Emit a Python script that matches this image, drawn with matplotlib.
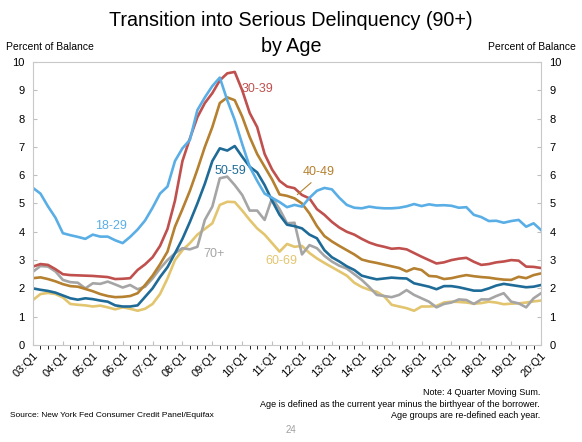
import numpy as np
import matplotlib.pyplot as plt

plt.rcParams['font.family'] = ['Liberation Sans', 'DejaVu Sans']

# quarterly, 2003Q1 .. 2020Q1
quarters = np.arange(69)
tick_labels = [f"{y:02d}:Q1" for y in range(3, 21)]

age_18_29 = [5.55, 5.35, 4.9, 4.5, 3.95, 3.88, 3.82, 3.75, 3.9, 3.83, 3.83, 3.7, 3.6, 3.82,
             4.08, 4.4, 4.85, 5.35, 5.6, 6.5, 6.95, 7.25, 8.3, 8.75, 9.15, 9.45, 8.65, 7.95,
             7.1, 6.3, 5.8, 5.35, 5.2, 5.05, 4.87, 4.95, 4.89, 5.2, 5.45, 5.55, 5.5, 5.2,
             4.95, 4.85, 4.83, 4.89, 4.85, 4.83, 4.83, 4.85, 4.9, 4.98, 4.91, 4.97, 4.93,
             4.94, 4.92, 4.85, 4.87, 4.6, 4.52, 4.38, 4.39, 4.32, 4.38, 4.42, 4.18, 4.3, 4.06]
age_30_39 = [2.77, 2.86, 2.83, 2.68, 2.5, 2.47, 2.46, 2.45, 2.44, 2.42, 2.4, 2.33, 2.34, 2.36,
             2.65, 2.85, 3.1, 3.5, 4.1, 5.1, 6.5, 7.3, 8.05, 8.55, 8.9, 9.35, 9.6, 9.65,
             9.0, 8.2, 7.7, 6.75, 6.2, 5.8, 5.6, 5.54, 5.3, 5.18, 4.8, 4.6, 4.35, 4.15,
             4.0, 3.9, 3.75, 3.62, 3.53, 3.47, 3.4, 3.42, 3.38, 3.25, 3.12, 3.0, 2.88,
             2.92, 3.0, 3.05, 3.08, 2.94, 2.83, 2.86, 2.92, 2.95, 3.0, 2.98, 2.77, 2.76, 2.72]
age_40_49 = [2.36, 2.39, 2.33, 2.25, 2.15, 2.08, 2.06, 1.98, 1.9, 1.8, 1.73, 1.69, 1.7, 1.73,
             1.83, 2.12, 2.45, 2.85, 3.3, 4.18, 4.8, 5.45, 6.2, 7.0, 7.7, 8.55, 8.75, 8.65,
             8.07, 7.35, 6.75, 6.3, 5.85, 5.32, 5.27, 5.18, 5.0, 4.65, 4.2, 3.85, 3.66, 3.5,
             3.35, 3.2, 3.02, 2.95, 2.9, 2.84, 2.78, 2.72, 2.6, 2.71, 2.65, 2.44, 2.42,
             2.33, 2.36, 2.42, 2.47, 2.43, 2.4, 2.38, 2.34, 2.31, 2.3, 2.41, 2.36, 2.47, 2.53]
age_50_59 = [2.0, 1.95, 1.91, 1.85, 1.75, 1.65, 1.6, 1.65, 1.62, 1.57, 1.53, 1.4, 1.36, 1.36,
             1.4, 1.7, 2.0, 2.4, 2.75, 3.24, 3.75, 4.35, 5.0, 5.7, 6.5, 6.95, 6.87, 7.03,
             6.65, 6.3, 6.1, 5.65, 5.1, 4.6, 4.25, 4.2, 4.12, 3.9, 3.77, 3.35, 3.1, 2.95,
             2.78, 2.65, 2.45, 2.38, 2.32, 2.35, 2.38, 2.36, 2.35, 2.18, 2.12, 2.06, 1.97,
             2.08, 2.08, 2.04, 1.98, 1.92, 1.92, 2.0, 2.1, 2.16, 2.12, 2.08, 2.04, 2.06, 2.12]
age_60_69 = [1.59, 1.8, 1.84, 1.8, 1.68, 1.45, 1.42, 1.4, 1.36, 1.39, 1.33, 1.26, 1.33, 1.28,
             1.21, 1.28, 1.45, 1.8, 2.35, 3.0, 3.35, 3.6, 3.9, 4.1, 4.3, 4.95, 5.06, 5.05,
             4.75, 4.42, 4.12, 3.9, 3.6, 3.3, 3.57, 3.47, 3.5, 3.25, 3.06, 2.9, 2.75, 2.6,
             2.45, 2.2, 2.05, 1.95, 1.88, 1.72, 1.42, 1.36, 1.3, 1.21, 1.36, 1.36, 1.38,
             1.5, 1.53, 1.52, 1.5, 1.46, 1.48, 1.53, 1.5, 1.44, 1.46, 1.47, 1.5, 1.54, 1.57]
age_70_plus = [2.59, 2.79, 2.77, 2.6, 2.3, 2.22, 2.2, 2.0, 2.18, 2.16, 2.24, 2.14, 2.03, 2.12,
               1.97, 2.06, 2.35, 2.7, 3.0, 3.24, 3.42, 3.38, 3.47, 4.42, 4.89, 5.89, 5.95, 5.65,
               5.3, 4.75, 4.75, 4.42, 5.2, 4.8, 4.3, 4.32, 3.2, 3.53, 3.42, 3.15, 2.95, 2.8,
               2.7, 2.5, 2.3, 2.05, 1.77, 1.73, 1.69, 1.77, 1.94, 1.77, 1.65, 1.53, 1.33,
               1.45, 1.5, 1.61, 1.59, 1.45, 1.61, 1.61, 1.73, 1.83, 1.53, 1.47, 1.33, 1.65, 1.83]

series = [
    ("18-29", age_18_29, "#5AAEE6"),
    ("30-39", age_30_39, "#C0504D"),
    ("40-49", age_40_49, "#B5802F"),
    ("50-59", age_50_59, "#1F6B98"),
    ("60-69", age_60_69, "#E2C56E"),
    ("70+", age_70_plus, "#A5A5A5"),
]

fig = plt.figure(figsize=(5.82, 4.42), dpi=100)
ax = fig.add_axes([0.0567, 0.2195, 0.873, 0.6402])

# draw order: back to front
for name, vals, col in [series[4], series[5], series[3], series[2], series[1], series[0]]:
    ax.plot(quarters, vals, color=col, lw=1.9, solid_joinstyle='round')

ax.set_xlim(0, 68)
ax.set_ylim(0, 10)
ax.set_xticks(quarters, minor=True)
ax.set_xticks(quarters[::4])
ax.set_xticklabels(tick_labels, rotation=45, ha='right', rotation_mode='anchor', fontsize=7.5)
ax.set_yticks(range(11))
ax.tick_params(axis='both', direction='in', color='#BFBFBF', labelsize=8, pad=6)
ax.tick_params(axis='x', which='both', length=3, pad=4)
ax.tick_params(axis='y', left=True, right=True, labelleft=True, labelright=True, length=3)
for s in ax.spines.values():
    s.set_color('#C8C8C8')
    s.set_linewidth(0.8)

# series labels
ax.text(10.5, 4.1, "18-29", color="#5AAEE6", fontsize=9, ha='center')
ax.text(30, 8.95, "30-39", color="#C0504D", fontsize=9, ha='center')
ax.text(38.3, 6.0, "40-49", color="#B5802F", fontsize=9, ha='center')
ax.annotate("", xy=(35.1, 5.25), xytext=(37.5, 5.8),
            arrowprops=dict(arrowstyle='-', color="#B5802F", lw=0.8))
ax.text(26.4, 6.05, "50-59", color="#1F6B98", fontsize=9, ha='center')
ax.text(24.2, 3.1, "70+", color="#A5A5A5", fontsize=9, ha='center')
ax.text(33.2, 2.85, "60-69", color="#E2C56E", fontsize=9, ha='center')

fig.text(0.5, 1 - 20 / 442, "Transition into Serious Delinquency (90+)", ha='center', va='center',
         fontsize=14.2)
fig.text(0.5, 1 - 47 / 442, "by Age", ha='center', va='center', fontsize=14.2)
fig.text(0.01, 0.893, "Percent of Balance", fontsize=7.5, ha='left', va='center')
fig.text(0.99, 0.893, "Percent of Balance", fontsize=7.5, ha='right', va='center')

fig.text(0.928, 0.111, "Note: 4 Quarter Moving Sum.", fontsize=6.5, ha='right', va='center')
fig.text(0.928, 0.084, "Age is defined as the current year minus the birthyear of the borrower.",
         fontsize=6.5, ha='right', va='center')
fig.text(0.928, 0.059, "Age groups are re-defined each year.", fontsize=6.5, ha='right', va='center')
fig.text(0.017, 0.059, "Source: New York Fed Consumer Credit Panel/Equifax", fontsize=6.0,
         ha='left', va='center')
fig.text(0.5, 0.027, "24", fontsize=7, color='#A0A0A0', ha='center', va='center')

fig.savefig("out.png", dpi=100)
